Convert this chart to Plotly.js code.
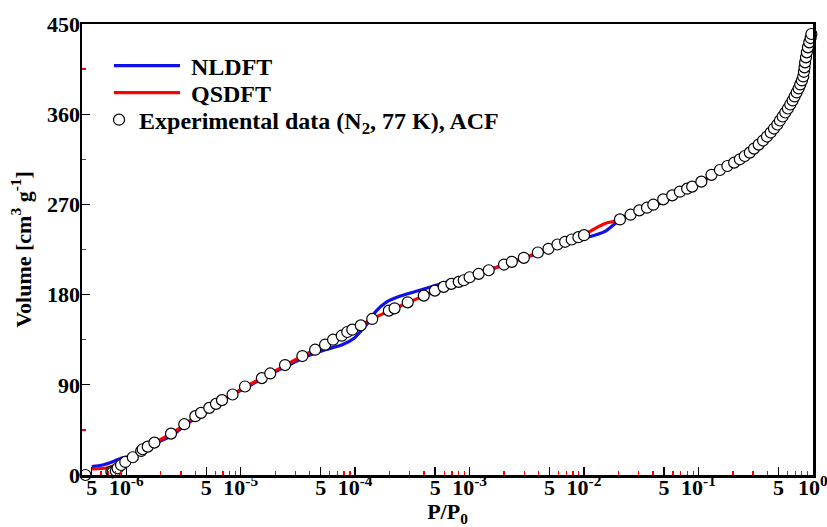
<!DOCTYPE html>
<html>
<head>
<meta charset="utf-8">
<script src="https://cdn.plot.ly/plotly-3.0.1.min.js"></script>
<style>html,body{margin:0;padding:0;background:#fff;}#chart{width:827px;height:527px;}</style>
</head>
<body>
<div id="chart"></div>
<script>
// Experimental data (N2, 77 K), ACF
const expP = [
  4.4e-7, 7.4e-7, 7.6e-7, 8.1e-7, 8.4e-7, 9.0e-7, 9.8e-7, 1.14e-6, 1.35e-6, 1.39e-6,
  1.54e-6, 1.76e-6, 2.46e-6, 3.21e-6, 4.01e-6, 4.50e-6, 5.31e-6, 6.08e-6, 6.86e-6, 8.49e-6,
  1.09e-5, 1.53e-5, 1.81e-5, 2.44e-5, 3.46e-5, 4.47e-5, 5.46e-5, 6.41e-5, 7.63e-5, 8.53e-5,
  9.44e-5, 1.12e-4, 1.41e-4, 1.97e-4, 2.21e-4, 2.88e-4, 3.98e-4, 4.97e-4, 5.94e-4, 6.93e-4,
  8.04e-4, 8.89e-4, 1.00e-3, 1.20e-3, 1.47e-3, 2.00e-3, 2.34e-3, 2.98e-3, 3.95e-3, 4.89e-3,
  5.86e-3, 6.84e-3, 7.81e-3, 8.93e-3, 1.00e-2, 2.06e-2, 2.55e-2, 3.04e-2, 3.55e-2, 4.03e-2,
  4.92e-2, 5.90e-2, 6.88e-2, 7.97e-2, 8.81e-2, 0.106, 0.130, 0.154, 0.179, 0.205,
  0.230, 0.254, 0.281, 0.306, 0.336, 0.367, 0.397, 0.428, 0.457, 0.489,
  0.515, 0.544, 0.574, 0.605, 0.634, 0.665, 0.692, 0.721, 0.750, 0.775,
  0.802, 0.823, 0.835, 0.845, 0.855, 0.870, 0.885, 0.905, 0.930, 0.955,
  0.970
];
const expV = [
  0, 3.3, 2.7, 4, 6.7, 10, 13, 17.7, 24, 25.7,
  28.3, 32.3, 41.3, 50.7, 58.7, 62, 67, 71, 74.7, 80.3,
  88.3, 96.7, 101.3, 109.7, 118.7, 125, 130, 135, 139, 142.7,
  145, 149.3, 155.7, 164, 166.3, 172.3, 179, 184, 187.7, 190.7,
  192.7, 194.3, 197.3, 200.7, 204.3, 210, 212.7, 216.7, 222, 225.7,
  230, 232.7, 235, 237.3, 239.3, 255, 259.7, 264, 266.7, 269.7,
  275, 279, 282.7, 285.7, 287.7, 292.7, 299.5, 304.3, 308.3, 311.7,
  315, 318.3, 321.7, 325.7, 329.7, 333.7, 337.7, 341.7, 345.7, 349.7,
  353.7, 357.7, 361.7, 365.7, 369.7, 373.7, 377.7, 381.7, 385.7, 389.7,
  393.7, 397.7, 402.3, 406.7, 411.7, 416.7, 421.7, 426.7, 431.7, 436,
  440
];

// NLDFT fit
const nldftP = [
  5.0e-7, 6.2e-7, 7.6e-7, 9.0e-7, 1.1e-6, 1.5e-6, 2.0e-6, 2.5e-6, 3.2e-6, 4.0e-6,
  5.3e-6, 7.0e-6, 1.1e-5, 1.8e-5, 2.5e-5, 3.7e-5, 5.5e-5, 7.7e-5, 9.8e-5, 1.15e-4,
  1.32e-4, 1.51e-4, 1.85e-4, 2.41e-4, 3.37e-4, 4.70e-4, 6.57e-4, 9.2e-4, 1.37e-3, 2.05e-3,
  3.0e-3, 4.0e-3, 6.0e-3, 8.5e-3, 1.09e-2, 1.53e-2, 1.85e-2, 2.06e-2, 3.0e-2, 4.5e-2,
  6.0e-2, 8.0e-2, 0.10, 0.12
];
const nldftV = [
  8.3, 10, 13.3, 16.7, 19, 27, 34, 39, 49, 56.5,
  66, 74.5, 87, 100.5, 108.5, 118, 125, 130, 136.5, 145,
  153, 163, 172, 178, 183, 188, 193, 197, 203.5, 210,
  216.5, 221.5, 230, 235.5, 237.5, 243, 250.5, 255, 264, 270.5,
  279, 286, 291, 296
];

// QSDFT fit
const qsdftP = [
  5.0e-7, 6.7e-7, 8.2e-7, 9.5e-7, 1.15e-6, 1.5e-6, 2.0e-6, 2.5e-6, 3.2e-6, 4.0e-6,
  5.3e-6, 7.0e-6, 1.1e-5, 1.8e-5, 2.5e-5, 3.5e-5, 5.5e-5, 7.6e-5, 9.4e-5, 1.12e-4,
  1.4e-4, 2.0e-4, 2.9e-4, 4.0e-4, 6.0e-4, 8.0e-4, 1.0e-3, 1.5e-3, 2.0e-3, 3.0e-3,
  4.0e-3, 6.0e-3, 8.0e-3, 1.0e-2, 1.09e-2, 1.53e-2, 1.8e-2, 2.06e-2, 3.0e-2, 4.5e-2,
  6.0e-2, 8.0e-2, 0.10, 0.12
];
const qsdftV = [
  6, 7, 10, 13, 18, 27.5, 35.5, 41.5, 50, 58,
  66.5, 75, 88, 101, 110, 119, 130, 139, 145, 149.5,
  155.5, 164, 172, 179, 188, 193, 197, 204.5, 210, 216.7,
  222, 230.5, 235.5, 239, 242, 251, 253, 255, 264, 272,
  279, 286, 291, 296
];

// Axis ticks
const xTickVals = [5e-7, 1e-6, 5e-6, 1e-5, 5e-5, 1e-4, 5e-4, 1e-3, 5e-3, 1e-2, 5e-2, 1e-1, 5e-1, 1];
const xTickText = ['5', '10<sup>-6</sup>', '5', '10<sup>-5</sup>', '5', '10<sup>-4</sup>', '5', '10<sup>-3</sup>', '5', '10<sup>-2</sup>', '5', '10<sup>-1</sup>', '5', '10<sup>0</sup>'];
const xMinorVals = [
  6e-7, 7e-7, 8e-7, 9e-7,
  2e-6, 3e-6, 4e-6, 6e-6, 7e-6, 8e-6, 9e-6,
  2e-5, 3e-5, 4e-5, 6e-5, 7e-5, 8e-5, 9e-5,
  2e-4, 3e-4, 4e-4, 6e-4, 7e-4, 8e-4, 9e-4,
  2e-3, 3e-3, 4e-3, 6e-3, 7e-3, 8e-3, 9e-3,
  2e-2, 3e-2, 4e-2, 6e-2, 7e-2, 8e-2, 9e-2,
  2e-1, 3e-1, 4e-1, 6e-1, 7e-1, 8e-1, 9e-1
];
const yTickVals = [0, 90, 180, 270, 360, 450];
const yMinorVals = [45, 135, 225, 315, 405];

const FONT = 'Liberation Serif, Times New Roman, serif';
const NB = '\u00a0';

const traces = [
  {
    x: nldftP, y: nldftV, type: 'scatter', mode: 'lines', name: NB + 'NLDFT',
    line: {color: '#1010e8', width: 3.2, shape: 'spline', smoothing: 0.6},
    legend: 'legend'
  },
  {
    x: qsdftP, y: qsdftV, type: 'scatter', mode: 'lines', name: NB + 'QSDFT',
    line: {color: '#ff0000', width: 3.2, shape: 'spline', smoothing: 0.6},
    legend: 'legend2'
  },
  {
    x: expP, y: expV, type: 'scatter', mode: 'markers',
    name: 'Experimental data (N<sub>2</sub>, 77 K), ACF',
    marker: {symbol: 'circle', size: 11, color: '#ffffff', line: {color: '#000000', width: 1.2}},
    legend: 'legend3', cliponaxis: false
  }
];

const legFont = {family: FONT, size: 24, color: '#000', weight: 'bold'};
const tickFont = {family: FONT, size: 22, color: '#000', weight: 'bold'};

const layout = {
  width: 827, height: 527,
  margin: {l: 82, r: 14, t: 24, b: 52},
  paper_bgcolor: '#ffffff', plot_bgcolor: '#ffffff',
  font: {family: FONT, size: 21, color: '#000'},
  showlegend: true,
  xaxis: {
    type: 'log', range: [-6.387, 0.001],
    showgrid: false, zeroline: false,
    showline: true, linecolor: '#000', linewidth: 2.5, mirror: true,
    ticks: 'inside', ticklen: 8, tickwidth: 1.3, tickcolor: '#000',
    tickmode: 'array', tickvals: xTickVals, ticktext: xTickText,
    tickfont: tickFont, ticklabelstandoff: -9, ticklabeloverflow: 'allow',
    minor: {tickmode: 'array', tickvals: xMinorVals, ticks: 'inside', ticklen: 4, tickwidth: 1.3, tickcolor: '#ff0000', showgrid: false},
    title: {text: 'P/P<sub>0</sub>', font: {family: FONT, size: 22, color: '#000', weight: 'bold'}, standoff: 9}
  },
  yaxis: {
    range: [0, 450],
    showgrid: false, zeroline: false,
    showline: true, linecolor: '#000', linewidth: 2.5, mirror: true,
    ticks: 'inside', ticklen: 8, tickwidth: 1.3, tickcolor: '#000',
    tickmode: 'array', tickvals: yTickVals,
    tickfont: tickFont, ticklabelstandoff: -5,
    minor: {tickmode: 'array', tickvals: yMinorVals, ticks: 'inside', ticklen: 4, tickwidth: 1.3, tickcolor: '#ff0000', showgrid: false},
    title: {text: 'Volume [cm<sup>3</sup> g<sup>-1</sup>]', font: {family: FONT, size: 22, color: '#000', weight: 'bold'}, standoff: 10}
  },
  legend: {
    x: 0.0369, xanchor: 'left', y: 0.9069, yanchor: 'middle',
    bgcolor: 'rgba(0,0,0,0)', borderwidth: 0, font: legFont, itemwidth: 66
  },
  legend2: {
    x: 0.0369, xanchor: 'left', y: 0.847, yanchor: 'middle',
    bgcolor: 'rgba(0,0,0,0)', borderwidth: 0, font: legFont, itemwidth: 66
  },
  legend3: {
    x: 0.0233, xanchor: 'left', y: 0.787, yanchor: 'middle',
    bgcolor: 'rgba(0,0,0,0)', borderwidth: 0, font: legFont, itemwidth: 30
  }
};

Plotly.newPlot('chart', traces, layout, {displayModeBar: false, staticPlot: true});
</script>
</body>
</html>
